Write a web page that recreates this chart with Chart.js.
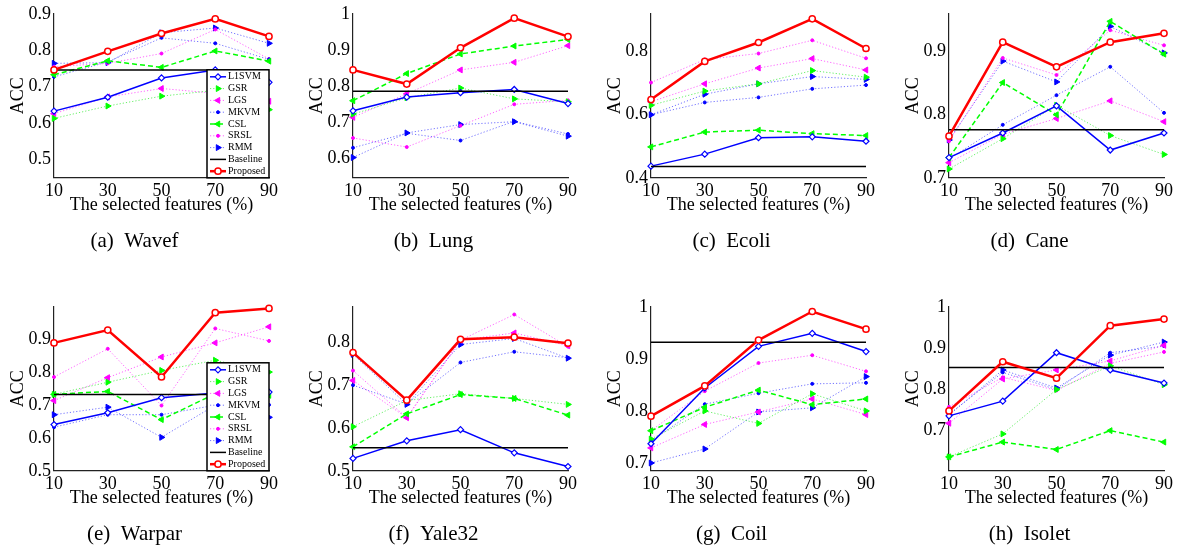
<!DOCTYPE html>
<html>
<head>
<meta charset="utf-8">
<script src="https://cdn.jsdelivr.net/npm/chart.js@4"></script>
<style>
  body { margin: 0; background: #fff; }
  #fig { position: relative; width: 1180px; height: 560px; background: #fff; overflow: hidden; }
  #fig canvas { position: absolute; }
</style>
</head>
<body>
<div id="fig"></div>
<script>
// x axis: share of selected features (%)
const featurePct = [10, 30, 50, 70, 90];
const methods = ['L1SVM', 'GSR', 'LGS', 'MKVM', 'CSL', 'SRSL', 'RMM', 'Proposed'];

// ACC values, one row per method (same order as `methods`)
const wavef = [
  [0.633, 0.671, 0.724, 0.746, 0.712],
  [0.613, 0.647, 0.674, 0.690, 0.637],
  [0.626, 0.672, 0.695, 0.682, 0.660],
  [0.727, 0.768, 0.834, 0.819, 0.775],
  [0.733, 0.771, 0.753, 0.798, 0.770],
  [0.755, 0.764, 0.791, 0.857, 0.776],
  [0.764, 0.766, 0.848, 0.861, 0.819],
  [0.746, 0.797, 0.846, 0.886, 0.838]
];
const lung = [
  [0.732, 0.770, 0.782, 0.791, 0.752],
  [0.723, 0.768, 0.795, 0.765, 0.757],
  [0.714, 0.779, 0.845, 0.866, 0.912],
  [0.630, 0.670, 0.650, 0.703, 0.668],
  [0.760, 0.835, 0.889, 0.911, 0.929],
  [0.657, 0.632, 0.691, 0.750, 0.761],
  [0.603, 0.671, 0.694, 0.702, 0.662],
  [0.845, 0.806, 0.906, 0.988, 0.937]
];
const ecoli = [
  [0.437, 0.475, 0.527, 0.530, 0.516],
  [0.630, 0.675, 0.698, 0.740, 0.719],
  [0.641, 0.698, 0.748, 0.778, 0.742],
  [0.600, 0.639, 0.655, 0.682, 0.694],
  [0.498, 0.545, 0.551, 0.540, 0.534],
  [0.702, 0.775, 0.794, 0.836, 0.779],
  [0.600, 0.665, 0.698, 0.721, 0.712],
  [0.648, 0.769, 0.829, 0.904, 0.810]
];
const cane = [
  [0.732, 0.771, 0.814, 0.744, 0.771],
  [0.714, 0.762, 0.815, 0.767, 0.737],
  [0.724, 0.769, 0.794, 0.822, 0.789],
  [0.730, 0.784, 0.831, 0.876, 0.803],
  [0.732, 0.851, 0.800, 0.948, 0.896],
  [0.758, 0.890, 0.863, 0.934, 0.910],
  [0.760, 0.885, 0.852, 0.940, 0.898],
  [0.766, 0.915, 0.876, 0.915, 0.929]
];
const warpar = [
  [0.641, 0.677, 0.723, 0.737, 0.740],
  [0.733, 0.770, 0.806, 0.837, 0.801],
  [0.714, 0.784, 0.847, 0.890, 0.939],
  [0.633, 0.671, 0.671, 0.700, 0.701],
  [0.733, 0.742, 0.656, 0.735, 0.730],
  [0.786, 0.872, 0.699, 0.934, 0.896],
  [0.671, 0.694, 0.602, 0.700, 0.663],
  [0.890, 0.929, 0.786, 0.982, 0.995]
];
const yale32 = [
  [0.529, 0.570, 0.596, 0.542, 0.510],
  [0.603, 0.664, 0.680, 0.669, 0.655],
  [0.711, 0.624, 0.805, 0.822, 0.792],
  [0.700, 0.656, 0.753, 0.778, 0.764],
  [0.556, 0.633, 0.678, 0.669, 0.630],
  [0.734, 0.624, 0.805, 0.865, 0.790],
  [0.772, 0.655, 0.795, 0.809, 0.763],
  [0.776, 0.665, 0.807, 0.812, 0.798]
];
const coil = [
  [0.737, 0.844, 0.924, 0.949, 0.914],
  [0.746, 0.800, 0.776, 0.833, 0.800],
  [0.729, 0.774, 0.798, 0.823, 0.793],
  [0.742, 0.813, 0.834, 0.852, 0.854],
  [0.762, 0.807, 0.840, 0.812, 0.823],
  [0.762, 0.838, 0.892, 0.907, 0.876],
  [0.700, 0.727, 0.798, 0.806, 0.866],
  [0.790, 0.848, 0.936, 0.991, 0.957]
];
const isolet = [
  [0.734, 0.770, 0.888, 0.846, 0.814],
  [0.634, 0.690, 0.798, 0.856, 0.810],
  [0.716, 0.824, 0.846, 0.868, 0.906],
  [0.738, 0.840, 0.798, 0.888, 0.904],
  [0.634, 0.670, 0.652, 0.698, 0.670],
  [0.756, 0.828, 0.796, 0.862, 0.890],
  [0.736, 0.846, 0.802, 0.882, 0.914],
  [0.746, 0.866, 0.826, 0.954, 0.970]
];

const panelData = [wavef, lung, ecoli, cane, warpar, yale32, coil, isolet];
const baselines = [0.746, 0.786, 0.436, 0.776, 0.733, 0.554, 0.932, 0.852];
const captions = ['(a)\u2002Wavef', '(b)\u2002Lung', '(c)\u2002Ecoli', '(d)\u2002Cane',
                  '(e)\u2002Warpar', '(f)\u2002Yale32', '(g)\u2002Coil', '(h)\u2002Isolet'];
const yMins = [0.45, 0.547, 0.40, 0.70, 0.50, 0.50, 0.685, 0.60];
const yMaxs = [0.90, 1.00, 0.92, 0.96, 1.00, 0.883, 1.00, 1.00];
const yTickLabels = [
  [0.5, 0.6, 0.7, 0.8, 0.9],
  [0.6, 0.7, 0.8, 0.9, 1],
  [0.4, 0.6, 0.8],
  [0.7, 0.8, 0.9],
  [0.5, 0.6, 0.7, 0.8, 0.9],
  [0.5, 0.6, 0.7, 0.8],
  [0.7, 0.8, 0.9, 1],
  [0.7, 0.8, 0.9, 1]
];
const legendPanels = [0, 4];

const SERIF = "'Liberation Serif', 'Times New Roman', serif";
const BLUE = '#0000ff', GREEN = '#00ff00', MAGENTA = '#ff00ff', RED = '#ff0000';
const DOT = [1.2, 2];

// line / marker look of each method (dotted lines are drawn paler, as in the figure)
const styles = {
  L1SVM:    { line: BLUE,                    color: BLUE,    width: 1.5, dash: [],     point: 'rectRot',  rot: 0,   r: 3,   fill: '#fff',  pw: 1.2, order: 2 },
  GSR:      { line: 'rgba(0,230,0,0.6)',     color: GREEN,   width: 1,   dash: DOT,    point: 'triangle', rot: 90,  r: 3.4, fill: GREEN,   pw: 1,   order: 4 },
  LGS:      { line: 'rgba(255,0,255,0.6)',   color: MAGENTA, width: 1,   dash: DOT,    point: 'triangle', rot: -90, r: 3.4, fill: MAGENTA, pw: 1,   order: 4 },
  MKVM:     { line: 'rgba(0,0,255,0.55)',    color: BLUE,    width: 1,   dash: DOT,    point: 'circle',   rot: 0,   r: 1.5, fill: BLUE,    pw: 1,   order: 4 },
  CSL:      { line: GREEN,                   color: GREEN,   width: 1.5, dash: [5, 3], point: 'triangle', rot: -90, r: 3.4, fill: GREEN,   pw: 1,   order: 3 },
  SRSL:     { line: 'rgba(255,0,255,0.6)',   color: MAGENTA, width: 1,   dash: DOT,    point: 'circle',   rot: 0,   r: 1.5, fill: MAGENTA, pw: 1,   order: 4 },
  RMM:      { line: 'rgba(0,0,255,0.55)',    color: BLUE,    width: 1,   dash: DOT,    point: 'triangle', rot: 90,  r: 3.4, fill: BLUE,    pw: 1,   order: 4 },
  Proposed: { line: RED,                     color: RED,     width: 2.5, dash: [],     point: 'circle',   rot: 0,   r: 3.1, fill: '#fff',  pw: 1.5, order: 0 }
};

// framed legend in the lower right corner of the plot area
const boxLegend = {
  id: 'boxLegend',
  afterDraw(chart) {
    const { ctx, chartArea } = chart;
    const w = 62, h = 108, rowH = 11.8;
    const left = chartArea.right - w, top = chartArea.bottom - h;
    ctx.save();
    ctx.fillStyle = '#fff';
    ctx.fillRect(left, top, w, h);
    ctx.strokeStyle = '#000';
    ctx.lineWidth = 1.5;
    ctx.strokeRect(left, top, w, h);
    ctx.font = '10px ' + SERIF;
    ctx.textBaseline = 'middle';
    chart.data.datasets.forEach((ds, i) => {
      const y = top + 7 + i * rowH;
      ctx.setLineDash(ds.borderDash || []);
      ctx.strokeStyle = ds.borderColor;
      ctx.lineWidth = ds.borderWidth;
      ctx.beginPath();
      ctx.moveTo(left + 3, y);
      ctx.lineTo(left + 19, y);
      ctx.stroke();
      ctx.setLineDash([]);
      if (ds.pointRadius > 0 && Chart.helpers && Chart.helpers.drawPoint) {
        ctx.fillStyle = ds.pointBackgroundColor;
        ctx.strokeStyle = ds.pointBorderColor;
        ctx.lineWidth = ds.pointBorderWidth;
        Chart.helpers.drawPoint(ctx, {
          pointStyle: ds.pointStyle, rotation: ds.pointRotation,
          radius: ds.pointRadius, borderWidth: ds.pointBorderWidth
        }, left + 11, y);
      }
      ctx.fillStyle = '#000';
      ctx.fillText(ds.label, left + 21, y);
    });
    ctx.restore();
  }
};

function buildDatasets(p) {
  const sets = methods.map((m, k) => {
    const s = styles[m];
    return {
      label: m,
      data: featurePct.map((x, j) => ({ x, y: panelData[p][k][j] })),
      borderColor: s.line,
      borderWidth: s.width,
      borderDash: s.dash,
      pointStyle: s.point,
      pointRotation: s.rot,
      pointRadius: s.r,
      pointBackgroundColor: s.fill,
      pointBorderColor: s.color,
      pointBorderWidth: s.pw,
      tension: 0,
      clip: false,
      order: s.order
    };
  });
  const baseline = {
    label: 'Baseline',
    data: [{ x: featurePct[0], y: baselines[p] }, { x: featurePct[featurePct.length - 1], y: baselines[p] }],
    borderColor: '#000',
    borderWidth: 1.5,
    borderDash: [],
    pointRadius: 0,
    tension: 0,
    clip: false,
    order: 1
  };
  sets.splice(7, 0, baseline);
  return sets;
}

const canvasLefts = [0, 299, 597, 895];
const canvasTops = [0, 293];
const fig = document.getElementById('fig');

captions.forEach((caption, p) => {
  const canvas = document.createElement('canvas');
  canvas.width = 285;
  canvas.height = 254;
  canvas.style.left = canvasLefts[p % 4] + 'px';
  canvas.style.top = canvasTops[Math.floor(p / 4)] + 'px';
  fig.appendChild(canvas);

  const tickFont = { family: SERIF, size: 18 };
  new Chart(canvas, {
    type: 'line',
    data: { datasets: buildDatasets(p) },
    options: {
      responsive: false,
      animation: false,
      devicePixelRatio: 1,
      layout: { padding: { top: 12, right: 16, left: 0, bottom: 0 } },
      plugins: {
        legend: { display: false },
        tooltip: { enabled: false },
        title: {
          display: true,
          position: 'bottom',
          text: caption,
          color: '#000',
          font: { family: SERIF, size: 21, weight: 'normal' },
          padding: { top: 13, bottom: 0 }
        }
      },
      scales: {
        x: {
          type: 'linear',
          min: featurePct[0],
          max: featurePct[featurePct.length - 1],
          afterBuildTicks: s => { s.ticks = featurePct.map(v => ({ value: v })); },
          afterFit: s => { s.height = 38; },
          ticks: { color: '#000', font: tickFont, padding: 3, maxRotation: 0 },
          grid: { display: false, drawTicks: false },
          border: { display: true, color: '#222', width: 1.2 },
          title: {
            display: true,
            text: 'The selected features (%)',
            color: '#000',
            font: tickFont,
            padding: { top: 0, bottom: 0 }
          }
        },
        y: {
          min: yMins[p],
          max: yMaxs[p],
          afterBuildTicks: s => { s.ticks = yTickLabels[p].map(v => ({ value: v })); },
          afterFit: s => { s.width = 54; },
          ticks: { color: '#000', font: tickFont, padding: 3, callback: v => String(+v.toFixed(2)) },
          grid: { display: false, drawTicks: false },
          border: { display: true, color: '#222', width: 1.2 },
          title: {
            display: true,
            text: 'ACC',
            color: '#000',
            font: tickFont,
            padding: { top: 7, bottom: 0 }
          }
        }
      }
    },
    plugins: legendPanels.includes(p) ? [boxLegend] : []
  });
});
</script>
</body>
</html>
